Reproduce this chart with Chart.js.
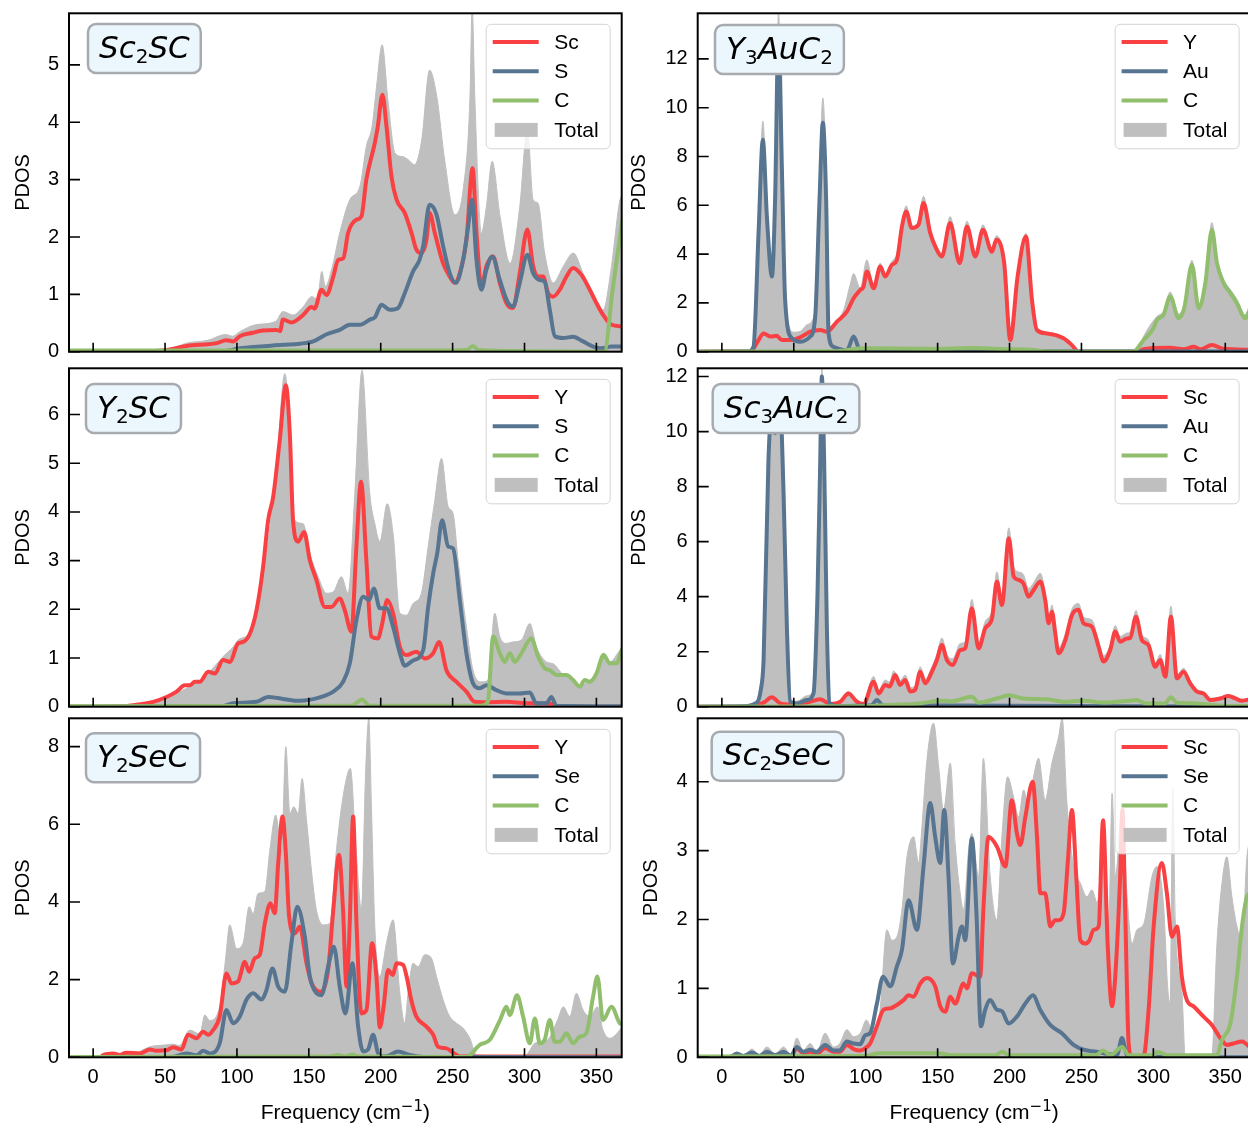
<!DOCTYPE html>
<html>
<head>
<meta charset="utf-8">
<script src="https://cdn.jsdelivr.net/npm/chart.js@4.4.0/dist/chart.umd.min.js"></script>
<style>
  html, body { margin: 0; padding: 0; background: #fff; }
  body { position: relative; width: 1248px; height: 1127px; overflow: hidden; }
  canvas { position: absolute; }
</style>
</head>
<body>
<canvas id="p0"></canvas>
<canvas id="p1"></canvas>
<canvas id="p2"></canvas>
<canvas id="p3"></canvas>
<canvas id="p4"></canvas>
<canvas id="p5"></canvas>
<script>
// Phonon partial DOS, [frequency cm^-1, states] pairs per species

const freqTicks = [0, 50, 100, 150, 200, 250, 300, 350];

// Sc2SC
const sc2scTicks = [0, 1, 2, 3, 4, 5];
const sc2scSc = [[-17,0],[40,0.01],[51,0.03],[65,0.1],[86,0.15],[92.7,0.2],[97.4,0.18],[102,0.27],[111,0.33],[118,0.37],[127.5,0.38],[130,0.36],[132,0.56],[138,0.51],[146,0.64],[151.8,0.78],[154,0.75],[158.8,1.08],[162.3,0.99],[167,1.31],[170.4,1.6],[174,1.63],[177.3,2.07],[183,2.3],[186.6,2.36],[190,3.0],[195.9,3.64],[198,3.93],[201.2,4.48],[204,3.93],[207.5,3.05],[211,2.65],[216.7,2.42],[221.4,2.07],[224.8,1.78],[228.3,1.72],[231.8,1.95],[234,2.42],[237.6,2.07],[243.4,1.54],[248,1.31],[251.5,1.2],[255,1.37],[259.6,1.95],[263.9,3.2],[266.6,2.07],[270.1,1.14],[273.5,1.49],[278.2,1.66],[282.8,1.2],[287.4,0.85],[292,0.76],[296.7,1.37],[302,2.13],[306,1.49],[309.4,1.31],[312.9,1.31],[316.4,1.02],[319.9,0.96],[324.5,1.08],[329.2,1.31],[333.8,1.46],[339.6,1.34],[345.4,1.08],[350,0.85],[354.7,0.64],[360.5,0.47],[368,0.44]];
const sc2scS = [[-17,0],[90,0.01],[102,0.06],[132,0.12],[143.8,0.14],[153,0.18],[162,0.3],[171.5,0.38],[178.5,0.47],[185.4,0.47],[192.4,0.56],[196,0.6],[200.5,0.82],[206.3,0.73],[212,0.76],[216.7,1.02],[222.5,1.4],[227,1.6],[229.5,1.84],[234,2.56],[238.8,2.39],[243.4,1.84],[248,1.37],[252.2,1.2],[257.3,1.6],[260.8,2.18],[263.4,2.65],[266.6,1.6],[270,1.08],[273.5,1.43],[277.5,1.66],[282.8,1.25],[288.6,0.85],[292,0.79],[296.7,1.2],[302,1.69],[306,1.37],[310.6,1.25],[314,1.22],[317.6,0.73],[321.1,0.27],[326.9,0.24],[333.8,0.26],[340.7,0.18],[347.7,0.09],[353.5,0.06],[360.5,0.09],[368,0.09]];
const sc2scC = [[-17,0.02],[230,0.02],[260,0.03],[264,0.1],[268,0.03],[300,0.01],[355.5,0],[361.3,1.08],[368,2.3]];
const sc2scTotal = [[-17,0.02],[40,0.02],[55,0.06],[65,0.15],[80,0.2],[92,0.3],[97,0.27],[102,0.35],[113,0.47],[127,0.53],[132,0.7],[139,0.64],[146,0.78],[152,0.96],[156,0.92],[159,1.4],[161.5,1.14],[166,1.45],[171.5,2.07],[178.5,2.65],[185.5,2.88],[190,3.58],[194,3.93],[197,4.6],[201,5.35],[205,4.39],[210,3.46],[215.5,3.4],[219,3.35],[223.5,3.26],[228.5,3.69],[234,4.91],[239,4.45],[244.5,3.34],[251.5,2.39],[257.3,2.82],[262,4.39],[263.6,6.0],[265.5,4.39],[270,2.07],[273.5,2.53],[277.5,3.32],[283,2.36],[290,1.54],[296.7,2.53],[302,3.9],[306,2.65],[309.4,2.59],[314,1.72],[320,1.2],[327,1.49],[334,1.72],[340.7,1.37],[347.7,1.02],[354.7,0.73],[360.5,1.49],[366,2.6],[368,2.75]];

// Y3AuC2
const y3aucTicks = [0, 2, 4, 6, 8, 10, 12];
const y3aucY = [[-17,0],[20,0.01],[25.5,0.48],[29,0.75],[33.6,0.62],[38.2,0.65],[41.7,0.48],[47.5,0.48],[54.5,0.59],[61.4,0.82],[68.4,0.89],[73,0.82],[80,1.23],[86.9,1.64],[91.6,2.19],[96.2,2.53],[98.5,2.67],[100.8,3.29],[105.5,2.6],[110.1,3.49],[113.6,3.08],[118.2,3.56],[121.7,3.76],[125.2,5.13],[128.2,5.75],[132,5.07],[136.7,5.2],[140.2,6.09],[144.9,4.86],[148.4,4.31],[152.9,3.9],[158.7,5.27],[165.3,3.63],[170.4,5.13],[176.2,3.9],[181.5,5.0],[187.8,4.1],[190.8,4.59],[196.3,3.63],[200.5,0.48],[205.6,3.08],[211.4,4.72],[215.6,2.12],[219,0.89],[226,0.75],[237.6,0.55],[243.4,0.27],[248,0],[289.7,0],[293,0.1],[311.7,0.16],[320.9,0.1],[328,0.2],[332.6,0.1],[340.7,0.27],[348.9,0.12],[368,0.08]];
const y3aucAu = [[-17,0],[18,0.01],[22,0.2],[25.5,4.86],[28.5,8.69],[31.3,5.54],[34.8,3.08],[37,6.23],[39.4,13.2],[41.7,7.6],[44,2.1],[48.7,0.55],[54.5,0.41],[61.4,0.62],[64.9,1.44],[67.9,6.23],[70.2,9.38],[72.5,6.23],[74.2,0.75],[77.6,0.2],[86.9,0.05],[91.6,0.62],[96.2,0.05],[120,0.02],[368,0.01]];
const y3aucC = [[-17,0],[80,0.02],[98.5,0.14],[145,0.12],[175,0.15],[200,0.1],[215,0.08],[225,0.01],[286,0],[293.2,0.48],[300,0.95],[302.5,1.3],[307,1.5],[311.7,2.26],[317.6,1.37],[321.5,1.8],[326.8,3.56],[331.5,1.78],[336.1,2.8],[340.7,5.0],[344.2,3.63],[348.9,2.8],[353.5,2.4],[358.1,1.98],[363.9,1.37],[366.2,1.6],[368,1.7]];
const y3aucTotal = [[-17,0],[18,0.01],[22,0.3],[25.5,5.3],[28.5,9.45],[31.3,6.1],[34.8,3.2],[37,6.5],[39.4,13.9],[41.7,8.2],[44,2.8],[47,1.0],[50,0.8],[55,0.85],[59,1.1],[63,1.3],[65,2.0],[67.9,7.0],[70.2,10.4],[72.5,7.0],[74.2,1.0],[77.6,1.16],[84.6,1.7],[89,2.7],[91.6,3.2],[96.2,2.6],[100.8,3.76],[105.5,2.7],[110.1,3.63],[113.6,3.2],[118.2,3.7],[121.7,4.04],[125.2,5.3],[128.2,5.98],[132,5.13],[136.7,5.4],[140.2,6.37],[144.9,5.0],[148.4,4.45],[152.9,4.05],[158.7,5.54],[165.3,3.8],[170.4,5.35],[176.2,4.05],[181.5,5.2],[187.8,4.25],[190.8,4.75],[196.3,3.75],[200.5,0.6],[205.6,3.2],[211.4,4.85],[215.6,2.2],[219,0.95],[226,0.78],[237.6,0.57],[243.4,0.28],[248,0.01],[289,0.01],[293,0.6],[302.5,1.45],[307,1.65],[311.7,2.45],[317.6,1.55],[321.5,1.95],[326.8,3.75],[331.5,1.98],[336.1,2.95],[340.7,5.3],[344.2,3.85],[348.9,2.95],[353.5,2.55],[358.1,2.15],[363.9,1.5],[366.2,1.8],[368,1.9]];

// Y2SC
const y2scTicks = [0, 1, 2, 3, 4, 5, 6];
const y2scY = [[-17,0],[20,0.01],[27.8,0.03],[41.7,0.1],[51,0.2],[58,0.31],[63.7,0.44],[67.2,0.44],[70.7,0.51],[74.2,0.51],[80,0.72],[84.6,0.68],[90.4,0.96],[95,0.92],[100.8,1.3],[104.3,1.33],[109,1.5],[113.6,1.98],[118.2,2.87],[121.7,3.83],[125.2,4.31],[129.8,5.48],[134,6.6],[136.8,5.6],[139,3.83],[142.6,3.39],[146.7,3.59],[150.7,3.01],[155.3,2.6],[161.1,2.05],[165.7,2.05],[171.5,2.22],[175,1.98],[179.6,1.54],[183.1,3.29],[186.3,4.62],[190,3.01],[193.5,1.44],[198,1.4],[201,1.7],[204.5,2.19],[208.6,1.92],[213.3,1.23],[218,1.06],[224.8,1.13],[230.6,0.99],[236.5,1.1],[240.6,1.33],[245.7,0.75],[252.7,0.51],[259.6,0.31],[265.3,0.1],[273.6,0.09],[287.4,0.1],[301.3,0.07],[318.7,0.06],[322,0.01],[368,0]];
const y2scS = [[-17,0],[90,0.01],[97.4,0.07],[113.6,0.1],[121.7,0.2],[132,0.16],[143.7,0.12],[157.6,0.19],[167,0.31],[173.8,0.51],[178.5,0.89],[183.1,1.78],[187.8,2.26],[191.9,2.19],[195.2,2.43],[199.4,2.02],[204,2.02],[208.6,1.64],[213.3,1.1],[216.8,0.84],[222.5,0.95],[229.5,1.16],[233,2.05],[236.5,2.74],[239.3,3.15],[242.7,3.83],[246.9,3.29],[250.3,3.25],[255,2.19],[259.6,1.1],[264.2,0.48],[268.9,0.38],[273.5,0.44],[280.5,0.34],[287.4,0.27],[296.7,0.27],[303.7,0.29],[308.3,0.07],[315.3,0.07],[318.7,0.2],[322.2,0.02],[368,0.01]];
const y2scC = [[-17,0.01],[180,0.02],[187,0.15],[192,0.02],[270,0.02],[274.5,0.1],[278.2,1.44],[282.8,1.1],[286.3,0.92],[289.8,1.1],[293.2,0.92],[297.9,1.1],[304.7,1.4],[309.4,1.03],[314,0.79],[317.6,0.75],[322.2,0.65],[329.2,0.65],[333.8,0.55],[338.4,0.41],[341.9,0.55],[345.4,0.51],[350,0.68],[355,1.06],[359.3,0.89],[364,0.89],[368,1.2]];
const y2scTotal = [[-17,0],[30,0.02],[39.4,0.07],[51,0.2],[65,0.38],[78.8,0.65],[90.4,1.03],[97.4,1.23],[100.8,1.37],[109,1.54],[113.6,2.05],[120.6,3.15],[127.5,4.93],[133.3,6.84],[136.8,5.75],[140.2,3.83],[146,3.76],[150.7,3.15],[156.5,2.67],[162.3,2.33],[167,2.36],[172.7,2.67],[177.3,2.33],[182,4.38],[187,6.91],[192.4,4.38],[195.9,3.76],[199.4,3.39],[204.5,4.17],[208.6,3.56],[213.3,1.92],[218,1.88],[222.5,2.12],[228.3,2.33],[233,3.29],[237.6,4.24],[242.3,5.1],[246.9,4.11],[250.3,3.97],[253.8,3.01],[259.6,1.64],[264.2,0.75],[270,0.51],[274.7,0.55],[279.3,1.92],[282.8,1.44],[287.4,1.3],[292,1.33],[297.9,1.37],[303.7,1.71],[308.3,1.23],[315.3,0.92],[320,0.88],[327,0.65],[333.8,0.55],[338.4,0.44],[345.4,0.55],[350,0.68],[355,1.1],[359.3,0.92],[366.2,1.15],[368,1.2]];

// Sc3AuC2
const sc3aucTicks = [0, 2, 4, 6, 8, 10, 12];
const sc3aucSc = [[-17,0],[20,0.01],[29,0.15],[34.8,0.34],[40.6,0.12],[47.5,0.08],[59,0.15],[68.4,0.27],[75.3,0.1],[82.3,0.18],[88,0.48],[93.9,0.18],[98.5,0.1],[105.5,0.91],[109,0.48],[113.6,0.79],[116.6,0.73],[120.5,1.15],[124,0.79],[127.5,0.97],[131,0.55],[134.4,0.61],[137.9,1.27],[141.4,0.85],[146,1.27],[149.5,1.7],[153,2.24],[156.4,1.7],[160.6,1.52],[165.7,2.06],[169.2,2.12],[173.8,3.58],[178.5,2.12],[183.1,2.85],[187.8,3.21],[191.2,4.55],[194.7,3.7],[199.5,6.12],[202.9,4.73],[206.3,4.61],[209.7,4.48],[213.2,4.0],[216.7,4.24],[221.4,4.55],[224.8,3.88],[227.2,3.03],[229.5,3.45],[231.8,2.67],[234.1,1.94],[238.8,2.42],[243.4,3.33],[248,3.52],[251.5,3.03],[257.3,2.91],[261.9,2.18],[265.4,1.64],[270,2.06],[273.5,2.73],[276.9,2.36],[281.6,2.48],[283.9,2.5],[287.9,3.27],[292,2.42],[296.6,2.24],[301.3,1.45],[304.8,1.7],[308.3,1.09],[312.2,3.27],[316.4,1.03],[321,1.27],[325.6,0.85],[330.3,0.55],[334.9,0.48],[339.6,0.24],[346.5,0.3],[352.3,0.39],[357,0.3],[361.6,0.22],[368,0.28]];
const sc3aucAu = [[-17,0],[15,0.02],[24.3,0.15],[27,0.6],[29,1.7],[32.4,8.97],[34.3,10.5],[37.1,9.94],[40.1,11.4],[42.9,7.76],[45.2,2.9],[47.5,0.18],[52.1,0.12],[59,0.24],[63.7,0.48],[66.5,4.12],[68.4,8.97],[69.5,12.0],[71.1,8.97],[73,2.9],[74.9,0.12],[80,0.02],[104,0.05],[107.8,0.24],[112,0.05],[368,0.01]];
const sc3aucC = [[-17,0],[100,0.02],[114.7,0.06],[138,0.12],[151.8,0.22],[160,0.2],[173.8,0.36],[178.5,0.15],[191.2,0.3],[199.5,0.42],[209.7,0.3],[226,0.27],[238,0.18],[251.5,0.22],[265.4,0.15],[284,0.22],[288,0.24],[295,0.12],[308,0.12],[312.2,0.34],[316.4,0.14],[330,0.12],[341,0.06],[350,0.03],[368,0.02]];
const sc3aucTotal = [[-17,0],[15,0.02],[24.3,0.2],[27,0.8],[29,2.0],[32.4,9.5],[34.3,11.0],[37.1,10.2],[40.1,11.5],[42.9,8.0],[45.2,3.1],[47.5,0.3],[52.1,0.2],[59,0.4],[63.7,0.6],[66.5,4.4],[68.4,9.3],[69.5,12.3],[71.1,9.3],[73,3.1],[74.9,0.25],[80,0.1],[88,0.55],[94,0.1],[98.5,0.15],[105.5,1.1],[109,0.6],[113.6,0.97],[116.6,0.9],[119.4,1.3],[124,0.95],[127.5,1.15],[131,0.7],[134.4,0.75],[137.9,1.45],[141.4,1.0],[146,1.45],[149.5,1.9],[153,2.5],[156.4,1.9],[160.6,1.75],[165.7,2.3],[169.2,2.35],[173.8,3.9],[178.5,2.3],[183.1,3.1],[187.8,3.5],[191.2,4.9],[194.7,4.0],[199.5,6.5],[202.9,5.1],[206.3,4.9],[209.7,4.8],[213.2,4.3],[216.7,4.5],[221.4,4.85],[224.8,4.15],[227.2,3.25],[229.5,3.7],[231.8,2.9],[234.1,2.15],[238.8,2.65],[243.4,3.55],[248,3.75],[251.5,3.25],[257.3,3.15],[261.9,2.4],[265.4,1.85],[270,2.25],[273.5,2.95],[276.9,2.55],[281.6,2.68],[283.9,2.7],[287.9,3.5],[292,2.62],[296.6,2.42],[301.3,1.6],[304.8,1.9],[308.3,1.25],[312.2,3.65],[316.4,1.15],[321,1.4],[325.6,0.95],[330.3,0.62],[334.9,0.55],[339.6,0.3],[346.5,0.35],[352.3,0.43],[357,0.35],[361.6,0.25],[368,0.3]];

// Y2SeC
const y2secTicks = [0, 2, 4, 6, 8];
const y2secY = [[-17,0],[5,0],[7,0.06],[14,0.1],[18.5,0.06],[23,0.12],[32.5,0.1],[39.4,0.2],[44,0.17],[51,0.18],[55.6,0.26],[61.4,0.2],[66,0.58],[71.9,0.49],[76.5,0.66],[80,0.58],[83.4,0.7],[88,1.05],[92.7,2.16],[96.2,1.9],[100.8,1.95],[105.5,2.46],[108.5,2.2],[112.4,2.55],[115.9,2.64],[119.4,3.45],[123.3,3.97],[126.3,3.71],[128.7,5.0],[131.7,6.2],[134,5.25],[136.3,3.62],[140.2,3.19],[143.7,3.36],[148.4,2.42],[152,1.9],[155.3,1.73],[158,1.69],[163.4,2.25],[167,3.79],[171,5.21],[173.8,3.79],[176.2,1.82],[178.5,3.5],[180.8,6.2],[183.1,3.5],[186.6,1.13],[190.1,1.22],[194,2.94],[197,2.08],[199.4,0.77],[202,1.3],[205.1,2.25],[208.4,2.12],[211,2.42],[215.6,2.38],[218,2.08],[221.4,1.45],[224.8,1.05],[231.8,0.79],[236.5,0.58],[239.9,0.27],[245.7,0.23],[250.3,0.12],[255,0.02],[368,0.02]];
const y2secSe = [[-17,0],[55,0.01],[65,0.1],[72,0.05],[76.5,0.17],[81,0.1],[88,0.36],[92.7,1.22],[97.4,0.88],[102,1.05],[106.6,1.48],[111.3,1.65],[117,1.49],[120.5,1.73],[124.7,2.29],[128.7,1.82],[133.3,1.69],[137.9,2.94],[142,3.88],[147.2,3.11],[150.7,2.08],[155.3,1.65],[158.8,1.6],[163.4,2.33],[167.4,2.85],[171.5,1.82],[175.5,1.13],[180.3,2.42],[184.3,0.79],[187.8,0.15],[191.2,0.2],[194.7,0.58],[198.2,0.1],[201.7,0.02],[206,0.05],[212,0.15],[220.2,0.06],[230,0.01],[368,0]];
const y2secC = [[-17,0.01],[165,0.02],[170,0.06],[175,0.02],[180,0.07],[185,0.02],[259.6,0.01],[268.9,0.32],[275.9,0.45],[283,0.96],[287.4,1.3],[289.8,1.09],[294.8,1.6],[299,1.05],[303.7,0.36],[307.2,1.0],[310.6,0.36],[314,0.45],[317.6,0.96],[321,0.4],[324.5,0.4],[329.2,0.62],[333.8,0.36],[338.4,0.53],[343,0.62],[347.7,1.56],[350.7,2.08],[354.6,0.96],[360.5,1.3],[366.2,0.88],[368,0.85]];
const y2secTotal = [[-17,0],[5,0.02],[20,0.1],[30,0.12],[39.4,0.27],[51,0.32],[55.6,0.34],[60,0.3],[67.2,0.7],[74.2,0.6],[77.7,1.09],[81,0.95],[88,1.3],[92,2.5],[95,3.41],[99.7,2.8],[104.3,2.94],[108.5,3.88],[111.3,3.7],[114.7,4.22],[119.4,4.27],[122.9,5.34],[127,6.24],[131,5.34],[134,8.0],[136.8,6.28],[139.5,6.45],[142.6,6.28],[145.3,7.18],[148.4,6.11],[151.8,4.82],[155.3,3.79],[160,3.41],[164.6,3.45],[169.2,5.34],[173.8,6.71],[178.9,7.44],[182.6,5.51],[186.6,3.79],[189.4,7.23],[191.7,8.73],[193.6,6.37],[195.9,3.36],[199.4,2.08],[204,2.94],[208.6,3.54],[213.3,1.65],[216.7,0.88],[219,1.65],[222.5,2.42],[226,2.33],[230.6,2.64],[235.3,2.55],[238.8,2.08],[243.4,1.48],[248,1.05],[252.7,0.88],[257.3,0.75],[262,0.49],[266.6,0.06],[300,0.02],[304,0.2],[307,0.36],[316,0.45],[323,0.96],[327,1.3],[331.5,1.05],[336.1,1.65],[340.7,1.22],[345.4,1.05],[350.7,1.3],[354.6,0.7],[359.3,0.49],[364,0.6],[368,0.8]];

// Sc2SeC
const sc2secTicks = [0, 1, 2, 3, 4];
const sc2secSc = [[-17,0],[5,0],[10.4,0.03],[15,0.01],[20.9,0.05],[26,0.01],[31.3,0.06],[37,0.02],[42.9,0.05],[48,0.02],[52.1,0.13],[56.5,0.06],[61.4,0.08],[66,0.05],[71.8,0.13],[77.6,0.08],[82,0.08],[86.9,0.18],[91.6,0.12],[96.2,0.1],[100.8,0.15],[103.1,0.2],[107.8,0.45],[112.4,0.69],[117.1,0.71],[121.7,0.76],[126.3,0.83],[129.8,0.9],[133.3,0.88],[137.9,1.07],[142.6,1.15],[148.3,1.03],[151.8,0.74],[155.3,0.66],[158.8,0.88],[162.2,0.78],[168,1.07],[170.4,1.0],[173.8,1.22],[179.6,1.17],[181.8,2.14],[185.4,3.2],[191.2,3.06],[197.1,2.77],[201.6,3.73],[205.1,3.25],[207.5,3.08],[211,3.49],[216.1,4.0],[219.1,3.2],[221.4,2.38],[224.8,2.38],[228.3,1.9],[231.8,1.99],[234.1,1.99],[237.6,2.09],[240.6,2.86],[243.4,3.59],[246.4,2.62],[249.2,1.7],[252.6,1.65],[255.6,1.7],[258.4,1.85],[262,1.9],[265,3.44],[268.2,1.65],[271.2,0.74],[273.5,1.17],[276.9,2.62],[278.5,3.59],[280.4,2.14],[282.8,0.2],[285,0],[293,0],[296.7,0.69],[300.2,1.9],[305.9,2.82],[309.4,2.38],[312.9,1.75],[316.4,1.9],[319.8,1.17],[323.3,0.83],[327.9,0.74],[334.9,0.59],[340.7,0.47],[346.5,0.28],[351.1,0.18],[355.7,0.2],[361.6,0.23],[368,0.13]];
const sc2secSe = [[-17,0],[5,0],[10.4,0.05],[15,0.02],[20.9,0.07],[26,0.02],[31.3,0.08],[37,0.03],[42.9,0.08],[48,0.02],[52.1,0.15],[56.5,0.08],[61.4,0.11],[66,0.08],[71.8,0.18],[77.6,0.1],[82,0.1],[86.9,0.23],[91.6,0.2],[96.2,0.19],[99.7,0.32],[103.1,0.35],[107.8,0.78],[112,1.17],[117.1,1.03],[121.7,1.32],[125.2,1.56],[129.8,2.28],[135.6,1.85],[140.2,2.77],[144.9,3.69],[148.3,3.2],[151.8,2.82],[154.6,3.59],[157.6,2.62],[160.6,1.36],[164.6,1.75],[166.9,1.9],[169.2,1.7],[173.8,3.18],[176.9,2.14],[180.1,0.45],[183.1,0.69],[186.6,0.83],[191.2,0.69],[194.7,0.67],[199.4,0.49],[205.1,0.59],[211,0.78],[216.3,0.9],[221.3,0.69],[228.3,0.47],[236.4,0.35],[244.5,0.18],[251.5,0.11],[260.8,0.08],[267.7,0.05],[274.7,0.03],[278.2,0.28],[281.6,0.03],[288.6,0.01],[368,0]];
const sc2secC = [[-17,0.01],[100,0.02],[110,0.06],[150,0.06],[160,0.03],[190,0.03],[195,0.08],[200,0.03],[260,0.03],[265,0.1],[270,0.03],[278.2,0.15],[283,0.03],[300,0.03],[302.5,0.08],[310,0.03],[344.2,0.03],[347.7,0.25],[353.5,0.49],[358.1,1.17],[361.6,1.9],[365,2.33],[368,2.4]];
const sc2secTotal = [[-17,0],[5,0],[10.4,0.08],[15,0.02],[20.9,0.12],[26,0.03],[31.3,0.15],[37,0.05],[42.9,0.15],[48,0.04],[52.1,0.28],[56.5,0.1],[61.4,0.2],[66,0.08],[71.8,0.35],[77.6,0.15],[82,0.2],[86.9,0.4],[91.6,0.3],[96.2,0.35],[100.5,0.54],[105.4,0.35],[110,0.69],[114.7,1.85],[118.2,1.7],[121.7,1.75],[125.2,2.14],[128.7,2.91],[133.3,3.2],[136.8,2.82],[139.1,3.35],[142.6,4.32],[147.2,4.85],[150.7,4.22],[154.1,3.59],[158.8,4.27],[162.2,3.1],[165.7,2.38],[168,2.14],[171.5,3.0],[173.8,3.25],[178.5,2.62],[181.8,4.34],[186.6,2.62],[191.2,1.99],[194.7,3.2],[198.6,4.07],[202.8,3.78],[206.3,3.49],[209.8,3.88],[213.2,3.64],[216.7,4.07],[220.2,4.34],[224.8,3.73],[229.5,4.27],[234.1,4.65],[236.6,4.92],[239.9,3.69],[244.5,2.77],[249.2,2.53],[253.8,2.33],[257.3,2.43],[261,2.24],[265.6,3.35],[269.1,2.0],[271.3,3.83],[273.6,2.62],[278.2,3.59],[281.6,2.38],[285.1,1.65],[288.6,1.85],[293.3,1.94],[299,2.62],[302.5,2.77],[307.1,2.2],[310,1.0],[311.7,0.78],[313.5,3.9],[315.2,2.0],[319.9,0.93],[322.2,0],[340.5,0],[344.2,1.65],[347.7,2.53],[351.1,2.91],[354.6,2.33],[358.1,1.9],[361.6,1.7],[365,2.9],[368,3.2]];

const RED = '#f94144', BLUE = '#577590', GREEN = '#90be6d', GREY = '#bfbfbf';
const FONT = "'Liberation Sans', Arial, Helvetica, sans-serif";

Chart.defaults.font.family = FONT;
Chart.defaults.font.size = 20;
Chart.defaults.color = '#000';

const cols = [
  { cx: 0, cw: 640, left: 69, right: 621.7 },
  { cx: 620, cw: 650, left: 697.7, right: 1250.6 }
];
const rows = [
  { cy: 0, ch: 368, top: 13.3, bottom: 351.7 },
  { cy: 354, ch: 370, top: 368.3, bottom: 706.7 },
  { cy: 704, ch: 423, top: 718.3, bottom: 1057.3 }
];

const panels = [
  { row: 0, col: 0, name: [['Sc', 'i'], ['2', 's'], ['SC', 'i']], species: ['Sc', 'S', 'C'],
    series: [sc2scSc, sc2scS, sc2scC], total: sc2scTotal, yMax: 5.9, yTicks: sc2scTicks, box: [19, 10.7], ylab: 11 },
  { row: 0, col: 1, name: [['Y', 'i'], ['3', 's'], ['AuC', 'i'], ['2', 's']], species: ['Y', 'Au', 'C'],
    series: [y3aucY, y3aucAu, y3aucC], total: y3aucTotal, yMax: 13.87, yTicks: y3aucTicks, box: [17.3, 11.7], ylab: 7 },
  { row: 1, col: 0, name: [['Y', 'i'], ['2', 's'], ['SC', 'i']], species: ['Y', 'S', 'C'],
    series: [y2scY, y2scS, y2scC], total: y2scTotal, yMax: 6.95, yTicks: y2scTicks, box: [17, 15.7], ylab: 11 },
  { row: 1, col: 1, name: [['Sc', 'i'], ['3', 's'], ['AuC', 'i'], ['2', 's']], species: ['Sc', 'Au', 'C'],
    series: [sc3aucSc, sc3aucAu, sc3aucC], total: sc3aucTotal, yMax: 12.3, yTicks: sc3aucTicks, box: [15, 15.7], ylab: 7.5 },
  { row: 2, col: 0, name: [['Y', 'i'], ['2', 's'], ['SeC', 'i']], species: ['Y', 'Se', 'C'],
    series: [y2secY, y2secSe, y2secC], total: y2secTotal, yMax: 8.73, yTicks: y2secTicks, box: [17, 15], ylab: 11 },
  { row: 2, col: 1, name: [['Sc', 'i'], ['2', 's'], ['SeC', 'i']], species: ['Sc', 'Se', 'C'],
    series: [sc2secSc, sc2secSe, sc2secC], total: sc2secTotal, yMax: 4.92, yTicks: sc2secTicks, box: [14, 13.4], ylab: 19 }
];

function rrect(ctx, x, y, w, h, r) {
  ctx.beginPath();
  ctx.moveTo(x + r, y);
  ctx.arcTo(x + w, y, x + w, y + h, r);
  ctx.arcTo(x + w, y + h, x, y + h, r);
  ctx.arcTo(x, y + h, x, y, r);
  ctx.arcTo(x, y, x + w, y, r);
  ctx.closePath();
}

// black frame plus inward tick marks, drawn over the data
const axesFrame = {
  id: 'axesFrame',
  afterDatasetsDraw(chart) {
    const { ctx, chartArea: a, scales: { x, y } } = chart;
    ctx.save();
    ctx.strokeStyle = '#000';
    ctx.lineWidth = 1.6;
    ctx.beginPath();
    x.ticks.forEach(t => {
      const p = x.getPixelForValue(t.value);
      ctx.moveTo(p, a.bottom); ctx.lineTo(p, a.bottom - 9);
    });
    y.ticks.forEach(t => {
      const p = y.getPixelForValue(t.value);
      ctx.moveTo(a.left, p); ctx.lineTo(a.left + 11, p);
    });
    ctx.stroke();
    ctx.lineWidth = 2;
    ctx.strokeRect(a.left, a.top, a.right - a.left, a.bottom - a.top);
    ctx.restore();
  }
};

// compound name in a rounded box, top left
const nameBox = {
  id: 'nameBox',
  afterDraw(chart, args, opts) {
    const { ctx, chartArea: a } = chart;
    const big = "italic 31px 'DejaVu Sans'";
    const small = "20px 'DejaVu Sans'";
    ctx.save();
    let w = 0;
    opts.parts.forEach(([t, k]) => { ctx.font = k === 's' ? small : big; w += ctx.measureText(t).width; });
    const bx = a.left + opts.dx, by = a.top + opts.dy;
    rrect(ctx, bx, by, w + 22, 49, 8);
    ctx.fillStyle = '#ecf6fd';
    ctx.fill();
    ctx.lineWidth = 2.5;
    ctx.strokeStyle = '#a7abaf';
    ctx.stroke();
    ctx.fillStyle = '#000';
    ctx.textAlign = 'left';
    ctx.textBaseline = 'alphabetic';
    let tx = bx + 11;
    const base = by + 33.5;
    opts.parts.forEach(([t, k]) => {
      ctx.font = k === 's' ? small : big;
      ctx.fillText(t, tx, k === 's' ? base + 5 : base);
      tx += ctx.measureText(t).width;
    });
    ctx.restore();
  }
};

// legend box, top right
const pdosLegend = {
  id: 'pdosLegend',
  afterDraw(chart) {
    const { ctx, chartArea: a } = chart;
    const w = 124, h = 124.5;
    const bx = a.right - 11.5 - w, by = a.top + 11;
    ctx.save();
    rrect(ctx, bx, by, w, h, 5);
    ctx.fillStyle = 'rgba(255,255,255,0.8)';
    ctx.fill();
    ctx.lineWidth = 1;
    ctx.strokeStyle = '#d4d4d4';
    ctx.stroke();
    ctx.font = '21px ' + FONT;
    ctx.textBaseline = 'middle';
    ctx.textAlign = 'left';
    chart.data.datasets.forEach((ds, i) => {
      const ry = by + 17.7 + i * 29.3;
      if (ds.fill) {
        ctx.fillStyle = ds.backgroundColor;
        ctx.fillRect(bx + 8.5, ry - 7, 43, 14);
      } else {
        ctx.strokeStyle = ds.borderColor;
        ctx.lineWidth = 4;
        ctx.beginPath();
        ctx.moveTo(bx + 6.5, ry); ctx.lineTo(bx + 52.5, ry);
        ctx.stroke();
      }
      ctx.fillStyle = '#000';
      ctx.fillText(ds.label, bx + 68, ry + 1);
    });
    ctx.restore();
  }
};

// x-axis title with a raised exponent, bottom row only
const freqTitle = {
  id: 'freqTitle',
  afterDraw(chart, args, opts) {
    if (!opts.show) return;
    const { ctx, chartArea: a } = chart;
    const main = '21px ' + FONT, sup = "15px 'DejaVu Sans'";
    const parts = [['Frequency (cm', main, 0], ['\u22121', sup, -8], [')', main, 0]];
    ctx.save();
    let w = 0;
    parts.forEach(([t, f]) => { ctx.font = f; w += ctx.measureText(t).width; });
    let tx = (a.left + a.right) / 2 - w / 2;
    const base = a.bottom + 62;
    ctx.fillStyle = '#000';
    ctx.textAlign = 'left';
    ctx.textBaseline = 'alphabetic';
    parts.forEach(([t, f, dy]) => {
      ctx.font = f;
      ctx.fillText(t, tx, base + dy);
      tx += ctx.measureText(t).width;
    });
    ctx.restore();
  }
};

const pts = arr => arr.map(([x, y]) => ({ x, y }));

panels.forEach((p, i) => {
  const c = cols[p.col], r = rows[p.row];
  const bottomRow = p.row === 2;
  const el = document.getElementById('p' + i);
  el.width = c.cw; el.height = r.ch;
  el.style.left = c.cx + 'px'; el.style.top = r.cy + 'px';

  const colors = [RED, BLUE, GREEN];
  const datasets = p.series.map((s, k) => ({
    label: p.species[k], data: pts(s), borderColor: colors[k], borderWidth: 4,
    pointRadius: 0, fill: false, cubicInterpolationMode: 'monotone', order: 3 - k, clip: 0
  }));
  datasets.push({
    label: 'Total', data: pts(p.total), borderColor: GREY, backgroundColor: GREY, borderWidth: 1,
    pointRadius: 0, fill: 'origin', cubicInterpolationMode: 'monotone', order: 4, clip: 0
  });

  new Chart(el, {
    type: 'line',
    data: { datasets },
    plugins: [axesFrame, pdosLegend, nameBox, freqTitle],
    options: {
      responsive: false,
      animation: false,
      events: [],
      layout: { padding: { left: 0, bottom: 0, top: r.top - r.cy, right: c.cx + c.cw - c.right } },
      plugins: {
        legend: { display: false },
        tooltip: { enabled: false },
        nameBox: { parts: p.name, dx: p.box[0], dy: p.box[1] },
        freqTitle: { show: bottomRow }
      },
      scales: {
        x: {
          type: 'linear', min: -16.8, max: 367.6,
          grid: { display: false, drawTicks: false }, border: { display: false },
          afterBuildTicks: s => { s.ticks = freqTicks.map(v => ({ value: v })); },
          afterFit: s => { s.height = r.cy + r.ch - r.bottom; s.paddingLeft = 0; s.paddingRight = 0; },
          ticks: { display: bottomRow, padding: 8, maxRotation: 0, autoSkip: false }
        },
        y: {
          type: 'linear', min: 0, max: p.yMax,
          grid: { display: false, drawTicks: false }, border: { display: false },
          afterBuildTicks: s => { s.ticks = p.yTicks.map(v => ({ value: v })); },
          afterFit: s => { s.width = c.left - c.cx; s.paddingTop = 0; s.paddingBottom = 0; },
          ticks: { padding: 10 },
          title: { display: true, text: 'PDOS', padding: { top: p.ylab, bottom: 0 } }
        }
      }
    }
  });
});
</script>
</body>
</html>
